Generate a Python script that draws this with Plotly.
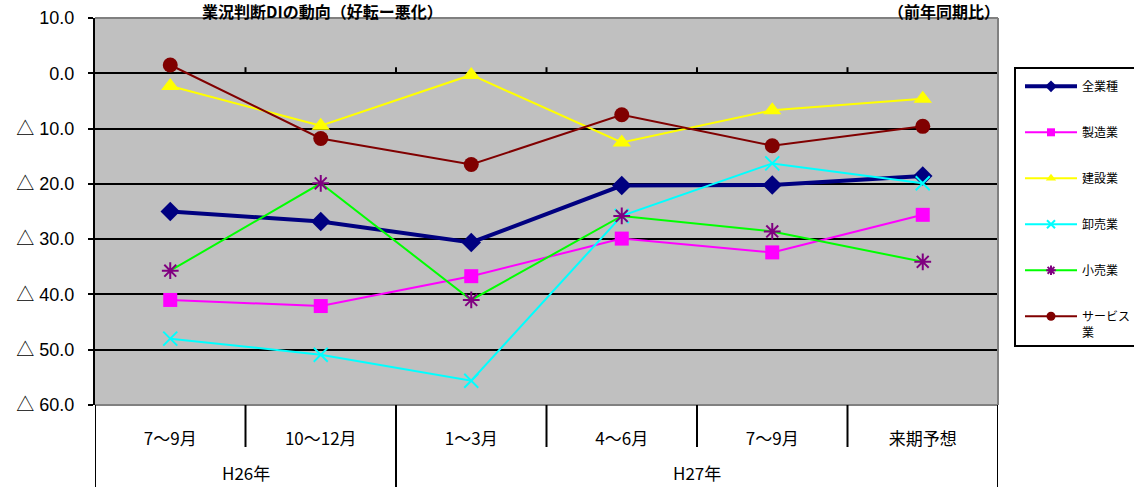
import plotly.graph_objects as go

# 業況判断DI（好転－悪化）、前年同期比
periods = ["7～9月", "10～12月", "1～3月", "4～6月", "7～9月", "来期予想"]
years = ["H26年", "H27年"]
year_centers = [0.5, 3.5]

all_industries = [-25.0, -26.8, -30.6, -20.3, -20.2, -18.6]
manufacturing = [-41.0, -42.1, -36.7, -29.9, -32.4, -25.6]
construction = [-2.3, -9.5, -0.3, -12.5, -6.7, -4.6]
wholesale = [-48.0, -50.9, -55.6, -25.8, -16.3, -19.9]
retail = [-35.7, -19.9, -41.0, -25.8, -28.6, -34.1]
services = [1.5, -11.8, -16.5, -7.5, -13.1, -9.6]

y_ticks = [10, 0, -10, -20, -30, -40, -50, -60]
y_tick_labels = ["10.0", "0.0", "△ 10.0", "△ 20.0", "△ 30.0", "△ 40.0", "△ 50.0", "△ 60.0"]

W, H = 1134, 487
L, R, T, B = 95, 136, 18, 82
plot_h = H - T - B
plot_w = W - L - R


def py(px):
    """pixel row -> paper y"""
    return (H - B - px) / plot_h


def px_x(px):
    """pixel column -> paper x"""
    return (px - L) / plot_w


x = list(range(len(periods)))
jp = "Noto Sans CJK JP"
num_font = "Liberation Sans, Noto Sans CJK JP"

series = [
    ("全業種", all_industries, dict(color="#000080", width=4),
     dict(symbol="diamond", size=15, color="#000080")),
    ("製造業", manufacturing, dict(color="#FF00FF", width=2),
     dict(symbol="square", size=14, color="#FF00FF")),
    ("建設業", construction, dict(color="#FFFF00", width=2),
     dict(symbol="triangle-up", size=16, color="#FFFF00")),
    ("卸売業", wholesale, dict(color="#00FFFF", width=2),
     dict(symbol="x-thin", size=14, color="#00FFFF", line=dict(color="#00FFFF", width=2))),
    ("小売業", retail, dict(color="#00FF00", width=2),
     dict(symbol="asterisk-open", size=14, color="#800080", line=dict(color="#800080", width=2))),
    ("サービス<br>業", services, dict(color="#800000", width=2),
     dict(symbol="circle", size=15, color="#800000")),
]

fig = go.Figure()
for i, (name, vals, line, marker) in enumerate(series):
    fig.add_trace(go.Scatter(
        x=x, y=vals, name=name, mode="lines+markers",
        line=line, marker=marker, showlegend=False,
        cliponaxis=False,
    ))
# legend entries with smaller key symbols
for i, (name, vals, line, marker) in enumerate(series):
    key_marker = dict(marker)
    key_marker["size"] = max(7, int(marker["size"] * 0.6))
    fig.add_trace(go.Scatter(
        x=[None], y=[None], name=name, mode="lines+markers",
        line=line, marker=key_marker, legendgroup=f"g{i}", showlegend=True,
    ))

shapes = []
# upward ticks on the zero line at category boundaries
for b in [0.5, 1.5, 2.5, 3.5, 4.5, 5.5]:
    shapes.append(dict(type="line", xref="x", yref="y", x0=b, x1=b, y0=0, y1=1.1,
                       line=dict(color="black", width=2), layer="above"))
# plot border (top / right / bottom)
shapes.append(dict(type="line", xref="paper", yref="paper", x0=0, x1=1, y0=1, y1=1,
                   line=dict(color="#808080", width=2), layer="above"))
shapes.append(dict(type="line", xref="paper", yref="paper", x0=1, x1=1, y0=0, y1=1,
                   line=dict(color="#808080", width=2), layer="above"))
shapes.append(dict(type="line", xref="paper", yref="paper", x0=0, x1=1, y0=0, y1=0,
                   line=dict(color="#808080", width=2), layer="above"))
# category table beneath the plot
row1_bottom = py(447)
for b in [0.5, 2.5, 3.5, 4.5]:
    shapes.append(dict(type="line", xref="x", yref="paper", x0=b, x1=b, y0=0, y1=row1_bottom,
                       line=dict(color="black", width=2)))
for b in [-0.5, 1.5, 5.5]:
    shapes.append(dict(type="line", xref="x", yref="paper", x0=b, x1=b, y0=0, y1=py(490),
                       line=dict(color="black", width=2)))
# legend frame
shapes.append(dict(type="rect", xref="paper", yref="paper",
                   x0=px_x(1015), x1=px_x(1150), y0=py(346), y1=py(68),
                   line=dict(color="black", width=2), fillcolor="rgba(0,0,0,0)"))

annotations = []
for label, cx in zip(years, year_centers):
    annotations.append(dict(text=label, x=cx, xref="x", y=py(472), yref="paper",
                            xanchor="center", yanchor="middle", borderpad=0,
                            showarrow=False, font=dict(family=jp, size=17, color="black")))
annotations.append(dict(text="<b>業況判断DIの動向（好転ー悪化）</b>", x=px_x(322), xref="paper",
                        y=py(11), yref="paper", xanchor="center", yanchor="middle", borderpad=0,
                        showarrow=False, font=dict(family=jp, size=16, color="black")))
annotations.append(dict(text="<b>（前年同期比）</b>", x=px_x(944), xref="paper",
                        y=py(11), yref="paper", xanchor="center", yanchor="middle", borderpad=0,
                        showarrow=False, font=dict(family=jp, size=16, color="black")))

fig.update_layout(
    width=W, height=H,
    margin=dict(l=L, r=R, t=T, b=B, autoexpand=False),
    paper_bgcolor="white",
    plot_bgcolor="#C0C0C0",
    showlegend=True,
    legend=dict(
        x=px_x(1020), y=py(72), xanchor="left", yanchor="top",
        bgcolor="rgba(0,0,0,0)", borderwidth=0,
        font=dict(family=jp, size=12, color="black"),
        tracegroupgap=27, itemwidth=52, valign="top",
        itemclick=False, itemdoubleclick=False,
    ),
    xaxis=dict(
        range=[-0.5, 5.5], tickvals=x, ticktext=periods,
        showgrid=False, zeroline=False, showline=False, ticks="",
        tickfont=dict(family=jp, size=17, color="black"),
        ticklabelstandoff=22, fixedrange=True,
    ),
    yaxis=dict(
        range=[-60, 10], tickvals=y_ticks, ticktext=y_tick_labels,
        showgrid=True, gridcolor="black", gridwidth=2, zeroline=False,
        showline=True, linecolor="black", linewidth=2,
        ticks="outside", ticklen=5, tickcolor="black", tickwidth=2,
        tickfont=dict(family=num_font, size=18, color="black"),
        ticklabelstandoff=10, fixedrange=True,
    ),
    shapes=shapes,
    annotations=annotations,
)

fig.write_html("out.html")
